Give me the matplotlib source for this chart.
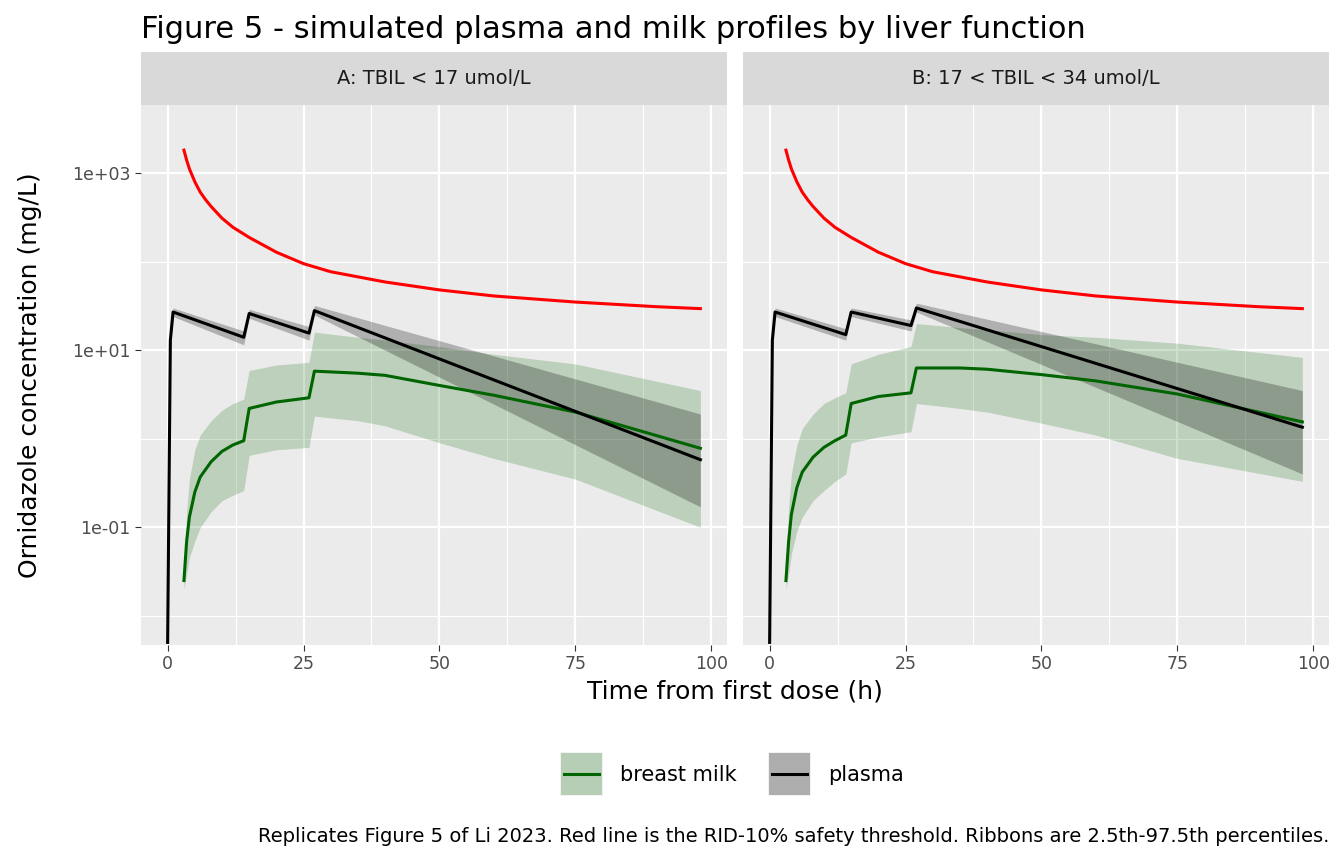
import numpy as np
import matplotlib.pyplot as plt
from matplotlib.patches import Rectangle
from matplotlib.lines import Line2D

# red safety threshold (same in both panels)
rid_t = [3, 3.5, 4, 5, 6, 7, 8, 10, 12, 15, 20, 25, 30, 40, 50, 60, 75, 90, 98]
rid_v = [1820, 1400, 1120, 800, 610, 500, 420, 310, 245, 188, 128, 95, 77, 59, 48, 41, 35, 31, 29.5]

# plasma median and ribbon
pl_t = [0, 0.5, 1, 14, 15, 26, 27, 98]
pl_a = [0.005, 13, 27, 14, 26, 15.6, 28, 0.58]
pl_a_lo = [0.005, 11, 24, 11.5, 23, 13, 25, 0.17]
pl_a_hi = [0.005, 15, 30, 16.5, 29, 18.5, 32, 1.9]
pl_b = [0.005, 13, 27, 15, 27, 19, 30, 1.35]
pl_b_lo = [0.005, 11, 24, 13, 24, 16.5, 27, 0.4]
pl_b_hi = [0.005, 15, 30, 17.5, 30, 22, 34, 3.5]

# breast milk median and ribbon
mk_t = [3, 3.5, 4, 5, 6, 8, 10, 12, 14, 15, 20, 26, 27, 35, 40, 50, 60, 75, 98]
mk_a = [0.025, 0.07, 0.13, 0.25, 0.37, 0.55, 0.72, 0.85, 0.95, 2.2, 2.6, 2.9, 5.8, 5.5, 5.2, 4.0, 3.1, 2.0, 0.78]
mk_a_lo = [0.02, 0.03, 0.045, 0.07, 0.1, 0.15, 0.2, 0.23, 0.26, 0.65, 0.75, 0.8, 1.8, 1.6, 1.4, 0.9, 0.6, 0.35, 0.1]
mk_a_hi = [0.03, 0.15, 0.35, 0.75, 1.1, 1.6, 2.1, 2.5, 2.8, 5.9, 6.8, 7.3, 16, 14, 13, 11, 9, 7, 3.5]
mk_b = [0.025, 0.07, 0.14, 0.28, 0.42, 0.62, 0.8, 0.95, 1.1, 2.5, 3.0, 3.3, 6.3, 6.3, 6.1, 5.3, 4.5, 3.2, 1.55]
mk_b_lo = [0.02, 0.03, 0.05, 0.09, 0.13, 0.2, 0.26, 0.33, 0.4, 0.9, 1.05, 1.2, 2.5, 2.2, 2.0, 1.5, 1.1, 0.6, 0.33]
mk_b_hi = [0.03, 0.17, 0.4, 0.85, 1.3, 1.9, 2.5, 2.9, 3.3, 7, 9, 11, 20, 18, 17, 15, 14, 12, 8.3]

panels = [
    ("A: TBIL < 17 umol/L", pl_a, pl_a_lo, pl_a_hi, mk_a, mk_a_lo, mk_a_hi),
    ("B: 17 < TBIL < 34 umol/L", pl_b, pl_b_lo, pl_b_hi, mk_b, mk_b_lo, mk_b_hi),
]

green = "#006400"
fig = plt.figure(figsize=(13.44, 8.64), dpi=100)
lefts = [141 / 1344, 743 / 1344]
w = 586 / 1344
bot, h = 1 - 645 / 864, 540 / 864
sh = 53 / 864

for i, (lab, p, plo, phi, m, mlo, mhi) in enumerate(panels):
    ax = fig.add_axes([lefts[i], bot, w, h])
    ax.set_facecolor("#EBEBEB")
    ax.set_yscale("log")
    ax.set_xlim(-4.9, 102.9)
    ax.set_ylim(10 ** -2.33, 10 ** 3.77)
    ax.set_xticks([0, 25, 50, 75, 100])
    ax.set_xticks([12.5, 37.5, 62.5, 87.5], minor=True)
    ax.set_yticks([1e-1, 1e1, 1e3])
    ax.set_yticks([1e-2, 1e0, 1e2], minor=True)
    ax.yaxis.set_minor_formatter(plt.NullFormatter())
    ax.grid(which="major", color="white", lw=1.6)
    ax.grid(which="minor", color="white", lw=0.8)
    ax.set_axisbelow(True)
    for s in ax.spines.values():
        s.set_visible(False)
    ax.tick_params(which="both", length=4, color="#333333", labelsize=12.5, labelcolor="#4D4D4D")
    ax.tick_params(which="minor", length=0)
    if i == 0:
        ax.set_yticklabels(["1e-01", "1e+01", "1e+03"])
    else:
        ax.set_yticklabels([])
        ax.tick_params(axis="y", length=0)
    ax.fill_between(mk_t, mlo, mhi, color=green, alpha=0.2, lw=0)
    ax.fill_between(pl_t, plo, phi, color="black", alpha=0.25, lw=0)
    ax.plot(rid_t, rid_v, color="red", lw=2.2)
    ax.plot(mk_t, m, color=green, lw=2.2)
    ax.plot(pl_t, p, color="black", lw=2.2)

    sax = fig.add_axes([lefts[i], bot + h, w, sh])
    sax.set_facecolor("#D9D9D9")
    sax.set_xticks([]); sax.set_yticks([])
    for s in sax.spines.values():
        s.set_visible(False)
    sax.text(0.5, 0.5, lab, ha="center", va="center", fontsize=14, color="#1A1A1A", transform=sax.transAxes)

fig.text(141 / 1344, 1 - 30 / 864, "Figure 5 - simulated plasma and milk profiles by liver function",
         fontsize=22, va="center", ha="left")
fig.text(0.5 * (141 + 1329) / 1344, 1 - 692 / 864, "Time from first dose (h)", fontsize=18, ha="center", va="center")
fig.text(30 / 1344, 1 - 375 / 864, "Ornidazole concentration (mg/L)", fontsize=18, rotation=90,
         ha="center", va="center")

# legend
lax = fig.add_axes([0, 0, 1, 1], facecolor="none")
lax.set_xlim(0, 1344); lax.set_ylim(864, 0); lax.axis("off")
for x0, col, a, txt in [(560, green, 0.25, "breast milk"), (768, "black", 0.28, "plasma")]:
    lax.add_patch(Rectangle((x0, 752), 43, 44, facecolor="#F2F2F2", edgecolor="none"))
    lax.add_patch(Rectangle((x0 + 1, 753), 41, 42, facecolor=col, alpha=a, edgecolor="none"))
    lax.add_line(Line2D([x0 + 4, x0 + 39], [774, 774], color=col, lw=2.2))
    lax.text(x0 + 60, 775, txt, fontsize=15, va="center", ha="left")
lax.text(1329, 836, "Replicates Figure 5 of Li 2023. Red line is the RID-10% safety threshold. "
         "Ribbons are 2.5th-97.5th percentiles.", fontsize=14, ha="right", va="center")

fig.savefig("out.png", dpi=100)
